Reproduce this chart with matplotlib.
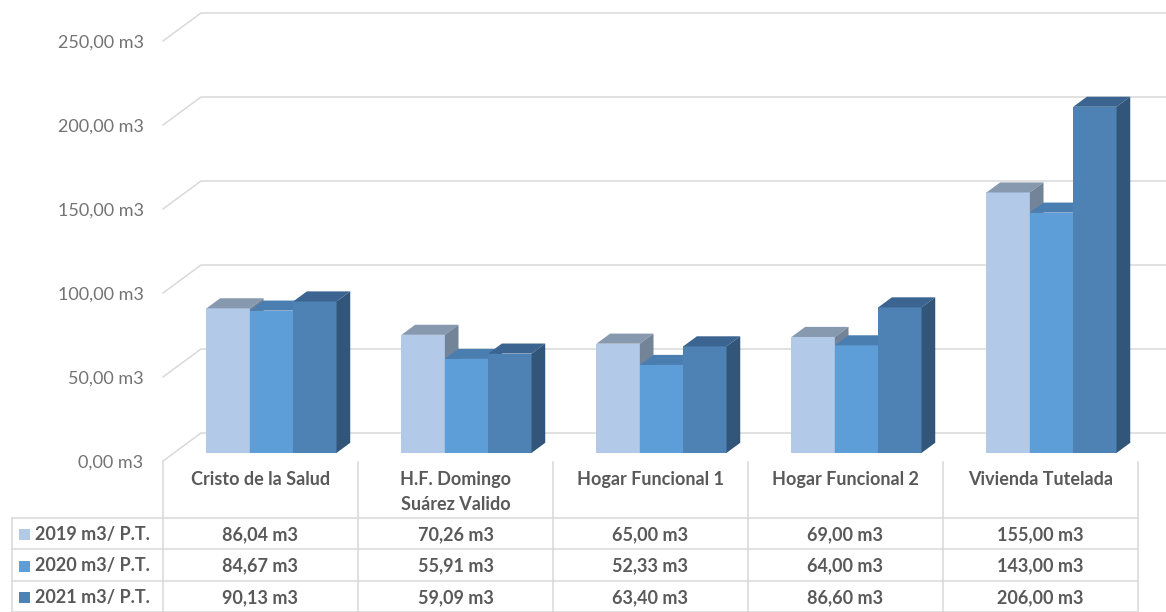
import matplotlib
matplotlib.use("Agg")
import matplotlib.pyplot as plt
from matplotlib.patches import Polygon, Rectangle
from matplotlib import transforms

# ---------------- data ----------------
categories = ["Cristo de la Salud", "H.F. Domingo\nSuárez Valido",
              "Hogar Funcional 1", "Hogar Funcional 2", "Vivienda Tutelada"]
series_names = ["2019 m3/ P.T.", "2020 m3/ P.T.", "2021 m3/ P.T."]
v2019 = [86.04, 70.26, 65.00, 69.00, 155.00]
v2020 = [84.67, 55.91, 52.33, 64.00, 143.00]
v2021 = [90.13, 59.09, 63.40, 86.60, 206.00]
y_ticks = [0, 50, 100, 150, 200, 250]

series = [v2019, v2020, v2021]

# ---------------- styles ----------------
front_cols = ["#B2CAE8", "#5E9ED8", "#4E82B4"]
top_cols = ["#8799AE", "#4A7DB0", "#3C6490"]
side_cols = ["#738499", "#3F6C99", "#32567A"]
grid_col = "#D9D9D9"
text_col = "#595959"
axis_text_col = "#737373"
FONT = "Lato"
FS = 13

W, H = 1166, 612
fig = plt.figure(figsize=(W / 100, H / 100), dpi=100)

# table / background axes in pixel units
tab = fig.add_axes([0, 0, 1, 1])
tab.set_xlim(0, W)
tab.set_ylim(H, 0)
tab.axis("off")

# chart axes
x0_px, floor_px = 163, 461
cat_px = 195.0
val_px = 1.68
ax = fig.add_axes([x0_px / W, (H - floor_px) / H, (W - x0_px) / W, floor_px / H])
ax.set_xlim(-0.5, -0.5 + (W - x0_px) / cat_px)
ax.set_ylim(0, floor_px / val_px)
ax.patch.set_alpha(0)
for s in ax.spines.values():
    s.set_visible(False)
ax.set_xticks([])

# depth (oblique projection)
DX = 38 / cat_px
DY = 28 / val_px
f0 = 0.29
fb = 0.36
ox, oy = f0 * DX, f0 * DY
bx, by = fb * DX, fb * DY

# gridlines (front diagonal + back wall)
xmax = ax.get_xlim()[1]
for t in y_ticks:
    ax.plot([-0.5, -0.5 + DX, xmax], [t, t + DY, t + DY], color=grid_col,
            lw=1.1, zorder=1, clip_on=False, solid_joinstyle="miter")

ax.set_yticks(y_ticks)
ax.set_yticklabels([f"{t:.2f}".replace(".", ",") + " m3" for t in y_ticks],
                   fontsize=FS, color=axis_text_col, family=FONT)
ax.tick_params(axis="y", length=0, pad=14)

# bars
n = len(series)
group_w = 0.667
w = group_w / n
z = 3
for i in range(len(categories)):
    for j, vals in enumerate(series):
        v = vals[i]
        xl = i - group_w / 2 + j * w
        xr = xl + w
        ax.bar(xl + ox, v, width=w, bottom=oy, align="edge",
               color=front_cols[j], edgecolor="none", zorder=z)
        top = [(xl + ox, v + oy), (xr + ox, v + oy),
               (xr + ox + bx, v + oy + by), (xl + ox + bx, v + oy + by)]
        ax.add_patch(Polygon(top, closed=True, facecolor=top_cols[j],
                             edgecolor="none", zorder=z + 0.1))
        side = [(xr + ox, oy), (xr + ox, v + oy),
                (xr + ox + bx, v + oy + by), (xr + ox + bx, oy + by)]
        ax.add_patch(Polygon(side, closed=True, facecolor=side_cols[j],
                             edgecolor="none", zorder=z + 0.1))
        z += 1

# ---------------- data table ----------------
bt = transforms.blended_transform_factory(ax.transData, tab.transData)
row_lines = [518, 549, 581, 612]
header_top = 462
table_left = 12
ncat = len(categories)
x_right = ax.transData.transform((ncat - 0.5, 0))[0]
for yl in row_lines[:-1]:
    tab.plot([table_left, x_right], [yl, yl], color=grid_col, lw=1.1, zorder=1)
tab.plot([table_left, x_right], [H - 0.5, H - 0.5], color=grid_col, lw=1.1, zorder=1)
tab.plot([table_left, table_left], [row_lines[0], H], color=grid_col, lw=1.1)
for k in range(ncat + 1):
    tab.plot([k - 0.5, k - 0.5], [header_top, H], color=grid_col, lw=1.1,
             transform=bt)

# category header
for i, c in enumerate(categories):
    tab.text(i, 471, c, transform=bt, ha="center", va="top", fontsize=FS,
             fontweight="bold", color=text_col, family=FONT, linespacing=1.55)

# rows
for j, (name, vals) in enumerate(zip(series_names, series)):
    yc = (row_lines[j] + row_lines[j + 1]) / 2 + 1
    tab.add_patch(Rectangle((19, yc - 5.5), 11, 11, facecolor=front_cols[j],
                            edgecolor="none"))
    tab.text(35, yc, name, ha="left", va="center", fontsize=FS,
             fontweight="bold", color=text_col, family=FONT)
    for i, v in enumerate(vals):
        tab.text(i, yc, f"{v:.2f}".replace(".", ",") + " m3", transform=bt,
                 ha="center", va="center", fontsize=FS, fontweight="bold",
                 color=text_col, family=FONT)

fig.savefig("out.png", dpi=100)
